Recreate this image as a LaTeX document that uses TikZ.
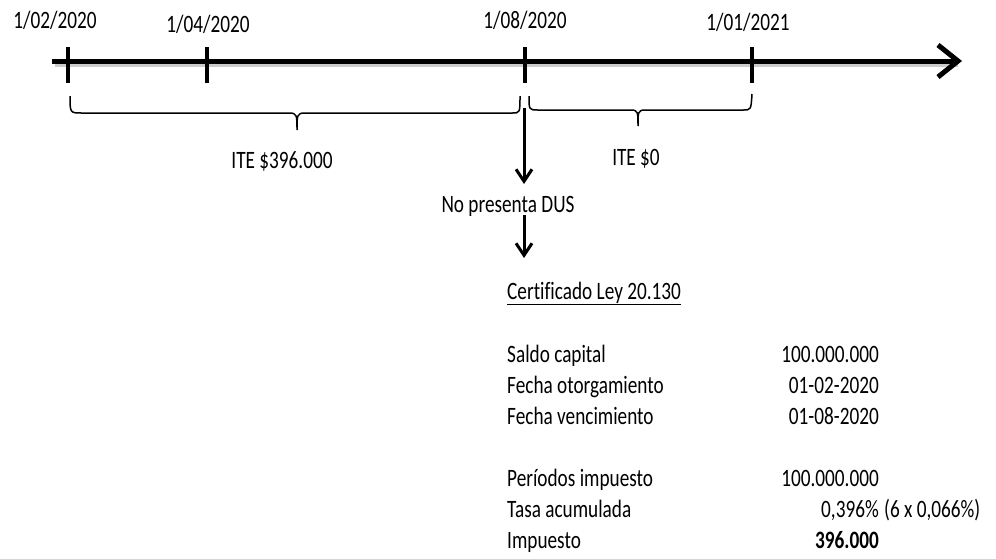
\documentclass[tikz,border=0pt]{standalone}
\usepackage{fontspec}
\setmainfont{Carlito}[FakeStretch=0.77, Ligatures=NoCommon]
\usetikzlibrary{arrows.meta}
\begin{document}
\begin{tikzpicture}[x=1pt,y=-1pt,
  lbl/.style={font=\fontsize{25}{30}\selectfont, inner sep=0pt, anchor=base},
  lft/.style={font=\fontsize{25}{30}\selectfont, inner sep=0pt, anchor=base west},
  rgt/.style={font=\fontsize{25}{30}\selectfont, inner sep=0pt, anchor=base east},
  axis/.style={line width=5pt, -{Straight Barb[length=20pt,width=32pt,line width=5pt]}},
  tick/.style={line width=4.5pt},
  brace/.style={line width=1.5pt},
  down/.style={line width=3pt, -{Straight Barb[length=12pt,width=16pt,line width=3pt]}}]
\useasboundingbox (0,0) rectangle (996,558);
% shadow of timeline
\draw[line width=5pt, black!20] (55,64) -- (958,64);
% timeline
\coordinate (a0) at (52,61);
\coordinate (a1) at (962,61);
\draw[axis] (a0) -- (a1);
% ticks
\foreach \n/\x in {t1/68,t2/207,t3/525,t4/752}{
  \coordinate (\n top) at (\x,47);
  \coordinate (\n bot) at (\x,83);
  \draw[tick] (\n top) -- (\n bot);
}
% date labels
\node[lbl] (d1) at (55,28) {1/02/2020};
\node[lbl] (d2) at (208,32) {1/04/2020};
\node[lbl] (d3) at (525,28) {1/08/2020};
\node[lbl] (d4) at (748,30) {1/01/2021};
% left brace
\draw[brace] (70,96) .. controls (70,113) and (70,113) .. (82,113) -- (289,113)
  .. controls (297,113) and (297,115) .. (297,130)
  .. controls (297,115) and (297,113) .. (305,113) -- (512,113)
  .. controls (520,113) and (520,113) .. (520,96);
% right brace
\draw[brace] (529,96) .. controls (529,110) and (529,110) .. (538,110) -- (631,110)
  .. controls (638,110) and (638,112) .. (638,126)
  .. controls (638,112) and (638,110) .. (645,110) -- (743,110)
  .. controls (751,110) and (751,110) .. (752,94);
\node[lbl] (ite1) at (282,168) {ITE \$396.000};
\node[lbl] (ite2) at (636,165) {ITE \$0};
% arrows
\coordinate (s1) at (524,108);
\node[lbl] (dus) at (508,212) {No presenta DUS};
\coordinate (e2) at (524,258);
\draw[down] (s1) -- (524,184);
\draw[down] (524,215) -- (e2);
% certificate table
\node[lft] (cert) at (507,299) {\underline{Certificado Ley 20.130}};
\node[lft] (r1l) at (507,362) {Saldo capital};
\node[rgt] (r1r) at (879,362) {100.000.000};
\node[lft] (r2l) at (507,393) {Fecha otorgamiento};
\node[rgt] (r2r) at (879,393) {01-02-2020};
\node[lft] (r3l) at (507,424) {Fecha vencimiento};
\node[rgt] (r3r) at (879,424) {01-08-2020};
\node[lft] (r4l) at (507,486) {Períodos impuesto};
\node[rgt] (r4r) at (879,486) {100.000.000};
\node[lft] (r5l) at (507,517) {Tasa acumulada};
\node[rgt] (r5r) at (879,517) {0,396\%};
\node[lft] (r5x) at (884,517) {(6 x 0,066\%)};
\node[lft] (r6l) at (507,548) {Impuesto};
\node[rgt] (r6r) at (879,548) {\bfseries 396.000};
\end{tikzpicture}
\end{document}
